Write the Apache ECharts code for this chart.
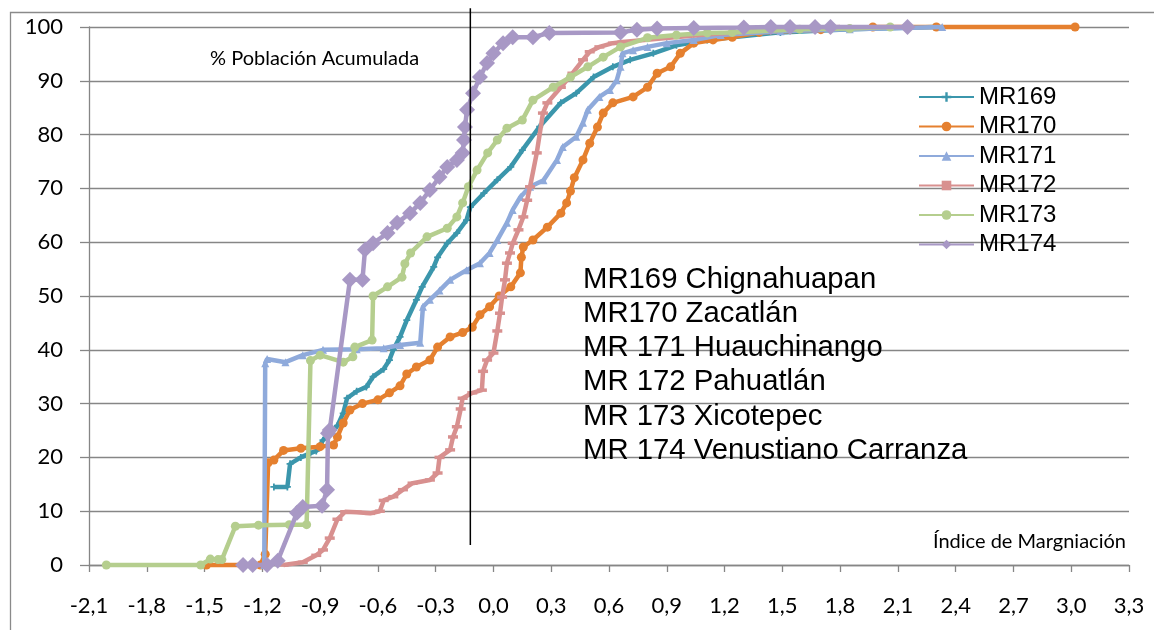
<!DOCTYPE html>
<html><head><meta charset="utf-8">
<script src="https://cdn.jsdelivr.net/npm/echarts@6/dist/echarts.min.js"></script>
<style>html,body{margin:0;padding:0;background:#fff}#c{width:1154px;height:630px}</style>
</head><body><div id="c"></div><script>
// ---- data ----
const seriesNames = ['MR169','MR170','MR171','MR172','MR173','MR174'];
const mr169 = [[-1.14,14.5],[-1.07,14.5],[-1.056,18.8],[-1.00,20],[-0.95,20.8],[-0.92,21.2],[-0.885,23.2],[-0.85,24.5],[-0.81,25.9],[-0.78,28.2],[-0.76,31],[-0.71,32.3],[-0.66,33.1],[-0.625,35],[-0.57,36.4],[-0.54,38.1],[-0.52,40],[-0.485,42.4],[-0.45,45.5],[-0.40,49.3],[-0.37,51.7],[-0.31,55.4],[-0.29,57.2],[-0.24,59.8],[-0.19,61.7],[-0.14,64.1],[-0.12,66.5],[-0.05,69.1],[0.02,71.6],[0.09,74],[0.15,77.1],[0.24,81.5],[0.35,85.9],[0.43,87.7],[0.52,90.7],[0.62,92.6],[0.71,93.9],[0.83,95.1],[0.95,96.6],[1.11,97.6],[1.24,98.1],[1.49,99],[1.85,99.6],[2.29,100]];
const mr170 = [[-1.49,0],[-1.21,0],[-1.185,2],[-1.17,19],[-1.14,19.5],[-1.09,21.3],[-1.00,21.7],[-0.90,22],[-0.83,22.3],[-0.81,23.8],[-0.78,26.4],[-0.745,28.8],[-0.68,30],[-0.60,30.7],[-0.54,32],[-0.485,33.3],[-0.45,35.5],[-0.40,36.8],[-0.33,38.1],[-0.29,40.5],[-0.225,42.4],[-0.16,43.2],[-0.11,44.2],[-0.07,46.5],[-0.02,48],[0.03,50],[0.09,51.7],[0.14,54.3],[0.145,57.2],[0.155,59.1],[0.205,60.4],[0.28,62.8],[0.35,65.4],[0.38,67.3],[0.40,69.5],[0.42,72],[0.465,75.3],[0.50,78.4],[0.54,81.4],[0.57,84],[0.62,85.9],[0.725,87],[0.80,88.8],[0.85,91.4],[0.92,92.6],[0.97,95.1],[1.04,97],[1.14,97.6],[1.24,98.1],[1.38,99],[1.70,99.5],[1.97,100],[2.30,100],[3.02,100]];
const mr171 = [[-1.19,0],[-1.185,37.5],[-1.175,38.3],[-1.08,37.7],[-0.99,39],[-0.885,40],[-0.71,40.1],[-0.57,40.3],[-0.485,40.9],[-0.38,41.3],[-0.366,48],[-0.33,49.3],[-0.28,51],[-0.225,53],[-0.14,54.8],[-0.07,56.1],[-0.02,58],[0.02,60.4],[0.07,63.6],[0.10,66],[0.14,68.4],[0.19,70.3],[0.26,71.5],[0.33,75.3],[0.36,77.7],[0.43,79.6],[0.465,82.2],[0.49,84.6],[0.55,87],[0.605,88.3],[0.64,90.1],[0.66,92.6],[0.67,95.1],[0.725,95.7],[0.80,96.3],[0.90,97],[1.04,97.6],[1.18,98.5],[1.49,99.2],[1.85,99.6],[2.33,100]];
const mr172 = [[-1.09,0],[-0.99,0.5],[-0.92,1.8],[-0.885,2.8],[-0.85,5],[-0.81,8.5],[-0.77,9.9],[-0.71,9.8],[-0.64,9.6],[-0.59,10],[-0.57,12],[-0.52,12.7],[-0.47,14],[-0.42,15.2],[-0.33,15.8],[-0.29,17.1],[-0.28,20],[-0.225,21.4],[-0.21,23.8],[-0.19,25.7],[-0.17,29],[-0.16,31],[-0.11,32],[-0.06,32.5],[-0.054,36],[-0.033,38.1],[0.00,39.4],[0.02,43.5],[0.034,46.8],[0.045,49.8],[0.06,53],[0.07,56.1],[0.086,58],[0.10,59.8],[0.13,62.3],[0.155,64.7],[0.175,67.8],[0.19,70.3],[0.225,76.6],[0.257,84],[0.28,85.9],[0.35,88.8],[0.41,91.4],[0.465,93.9],[0.50,95.4],[0.55,96.3],[0.62,97],[0.67,97.2],[1.07,98.5],[1.38,99.3],[1.80,100]];
const mr173 = [[-2.01,0],[-1.52,0],[-1.47,1.1],[-1.43,1],[-1.41,1],[-1.34,7.2],[-1.22,7.4],[-1.06,7.5],[-0.97,7.5],[-0.95,38],[-0.90,39],[-0.78,37.7],[-0.73,38.7],[-0.72,40.5],[-0.63,41.8],[-0.625,50],[-0.55,51.7],[-0.475,53.5],[-0.46,56],[-0.43,58],[-0.345,61],[-0.24,62.6],[-0.19,64.7],[-0.16,67.3],[-0.13,70.3],[-0.085,73.4],[-0.03,76.6],[0.02,79],[0.07,81.2],[0.15,82.7],[0.205,86.4],[0.31,88.8],[0.40,90.7],[0.49,92.6],[0.57,94.4],[0.66,96.3],[0.80,98],[0.95,98.5],[1.11,98.9],[1.24,99],[1.59,99.6],[1.85,99.7],[2.06,100]];
const mr174 = [[-1.30,0],[-1.25,0],[-1.175,0],[-1.12,0.8],[-1.02,9.7],[-0.99,10.8],[-0.89,11],[-0.864,14],[-0.859,24.5],[-0.85,25.1],[-0.745,53],[-0.68,53],[-0.667,58.6],[-0.625,59.8],[-0.55,61.7],[-0.50,63.6],[-0.433,65.4],[-0.38,67.3],[-0.33,69.7],[-0.28,72.1],[-0.24,74],[-0.19,75.3],[-0.16,76.6],[-0.153,79],[-0.148,81.4],[-0.137,84.6],[-0.106,87.7],[-0.07,90.7],[-0.033,93.3],[0.00,95.1],[0.05,97],[0.10,98.1],[0.205,98.1],[0.29,98.9],[0.66,99],[0.745,99.5],[0.85,99.7],[1.04,99.8],[1.30,99.9],[1.44,100],[1.54,100],[1.67,100],[1.75,100],[2.15,100]];
const refLineX = -0.12;
const refLineY = [3.7, 103.5];
const xRange = [-2.1, 3.3, 0.3];
const yRange = [0, 100, 10];
const axisTitleY = '% Población Acumulada';
const axisTitleX = 'Índice de Margniación';
const notes = ['MR169 Chignahuapan','MR170 Zacatlán','MR 171 Huauchinango','MR 172 Pahuatlán','MR 173 Xicotepec','MR 174 Venustiano Carranza'];

// ---- styles ----
const styles = [
  {data: mr169, color:'#3B96AC', symbol:'path://M3,0H5V3H8V5H5V8H3V5H0V3H3Z', size:7},
  {data: mr170, color:'#E5802F', symbol:'circle', size:9},
  {data: mr171, color:'#8FAADB', symbol:'triangle', size:8},
  {data: mr172, color:'#D8908F', symbol:'path://M0,0H10V3.5H0Z', size:10, keep:true},
  {data: mr173, color:'#B5CE8E', symbol:'circle', size:9},
  {data: mr174, color:'#A898C5', symbol:'diamond', size:16}
];

const chart = echarts.init(document.getElementById('c'), null, {renderer:'canvas'});
const series = styles.map((s,i)=>({
  name: seriesNames[i], type:'line', data:s.data, clip:false,
  symbol:s.symbol, symbolSize:s.size, symbolKeepAspect: !!s.keep,
  itemStyle:{color:s.color}, lineStyle:{color:s.color, width:4.5},
  emphasis:{disabled:true}, silent:true, z: 2+i
}));
series.push({
  type:'line', data: refLineY.map(y=>[refLineX,y]), clip:false, symbol:'none',
  lineStyle:{color:'#000', width:1.5}, silent:true, z:20
});

const fmt = v => { if (Math.abs(v) < 1e-9) v = 0; return v.toFixed(1).replace('.', ','); };
const noteTop = 279.5, noteStep = 34.3;
const graphics = [
  {type:'rect', left:8, top:10, shape:{width:1170, height:700}, style:{fill:'none', stroke:'#8a8a8a', lineWidth:1.3}, silent:true, z:-1},
  {type:'text', left:210, top:49, style:{text:axisTitleY, font:'20px Lato', fill:'#000'}, silent:true},
  {type:'text', left:933, top:532, style:{text:axisTitleX, font:'20px Lato', fill:'#000'}, silent:true}
].concat(notes.map((t,i)=>({type:'text', x:583, y:noteTop+i*noteStep, style:{text:t, font:'29.3px "Liberation Sans"', fill:'#000', textVerticalAlign:'middle'}, silent:true, z:30})));

chart.setOption({
  animation:false,
  backgroundColor:'#fff',
  grid:{left:89, right:25, top:27, bottom:65},
  xAxis:{type:'value', min:xRange[0], max:xRange[1], interval:xRange[2],
    axisLine:{show:true, onZero:false, lineStyle:{color:'#868686', width:1.3}},
    axisTick:{show:true, length:7, lineStyle:{color:'#868686', width:1.3}},
    splitLine:{show:false},
    axisLabel:{formatter:fmt, margin:30, fontFamily:'Lato', fontSize:22, color:'#000'}},
  yAxis:{type:'value', min:yRange[0], max:yRange[1], interval:yRange[2],
    axisLine:{show:true, onZero:false, lineStyle:{color:'#868686', width:1.3}},
    axisTick:{show:true, length:9, lineStyle:{color:'#868686', width:1.3}},
    splitLine:{show:true, lineStyle:{color:'#868686', width:1.3}},
    axisLabel:{margin:26, fontFamily:'Lato', fontSize:22, color:'#000'}},
  legend:{data:seriesNames, orient:'vertical', left:918, top:85, padding:0, itemWidth:55, itemHeight:12, itemGap:5.5,
    textStyle:{fontFamily:'Liberation Sans', fontSize:24, color:'#000', lineHeight:24}, selectedMode:false},
  graphic: graphics,
  series: series
});
</script></body></html>
